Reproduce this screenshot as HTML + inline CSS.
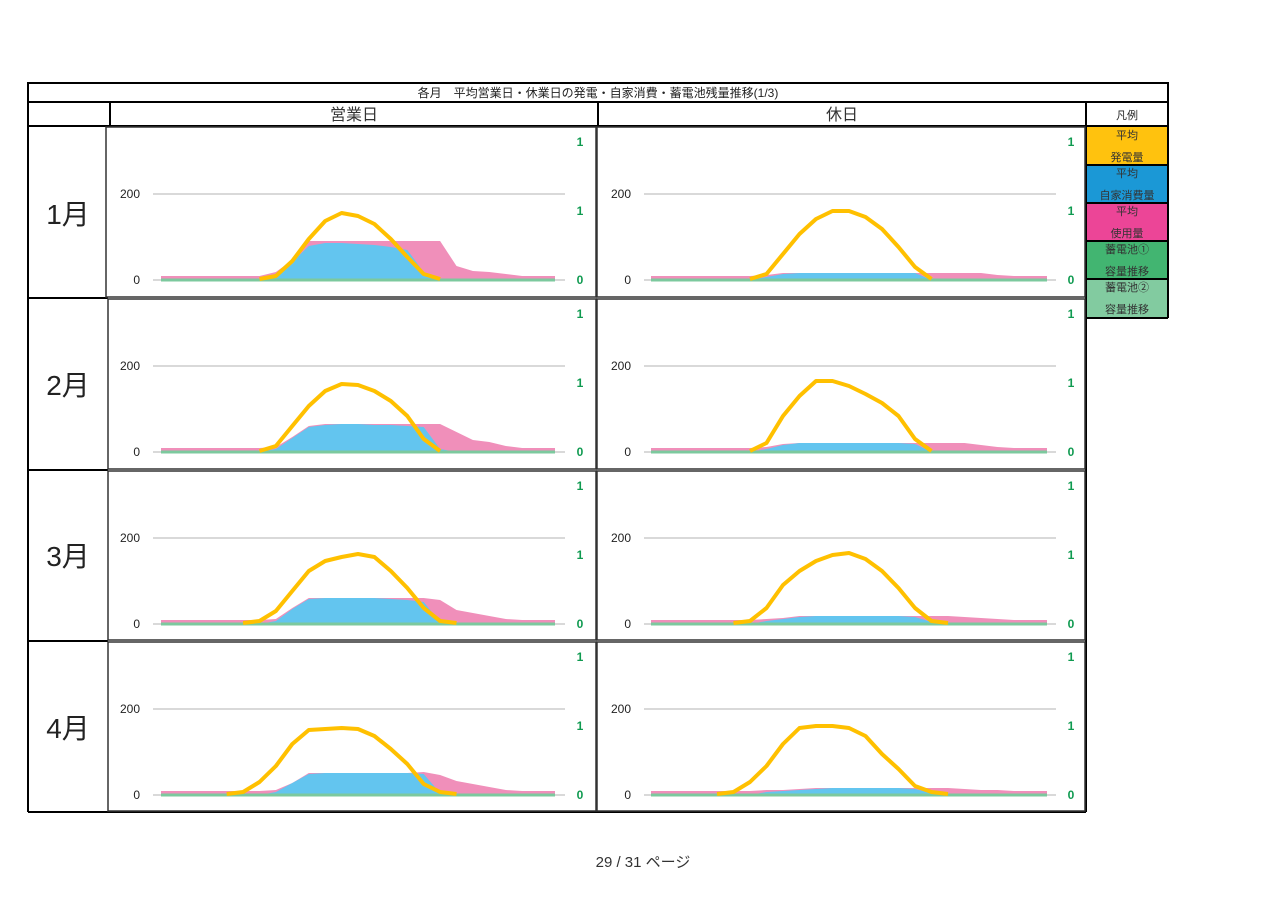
<!DOCTYPE html>
<html><head><meta charset="utf-8">
<style>
html,body{margin:0;padding:0;background:#fff;width:1286px;height:909px;overflow:hidden}
svg text{font-family:"Liberation Sans","Noto Sans CJK JP",sans-serif}
</style></head>
<body>
<svg id="s" width="1286" height="909" xmlns="http://www.w3.org/2000/svg">
<rect x="0" y="0" width="1286" height="909" fill="#fff"/>
<rect x="1087" y="127" width="81" height="38" fill="#ffc20e"/>
<rect x="1087" y="165" width="81" height="38" fill="#1b98d6"/>
<rect x="1087" y="203" width="81" height="38" fill="#ec4597"/>
<rect x="1087" y="241" width="81" height="38" fill="#42b571"/>
<rect x="1087" y="279" width="81" height="38" fill="#82cba0"/>
<g stroke="#000" stroke-width="2" fill="none">
<rect x="28" y="83" width="1140" height="19"/>
<line x1="28" y1="102" x2="28" y2="812"/>
<line x1="28" y1="126" x2="1168" y2="126"/>
<line x1="110" y1="102" x2="110" y2="126"/>
<line x1="598" y1="102" x2="598" y2="126"/>
<line x1="1086" y1="102" x2="1086" y2="812"/>
<line x1="1168" y1="102" x2="1168" y2="318"/>
<line x1="1086" y1="165" x2="1168" y2="165"/>
<line x1="1086" y1="203" x2="1168" y2="203"/>
<line x1="1086" y1="241" x2="1168" y2="241"/>
<line x1="1086" y1="279" x2="1168" y2="279"/>
<line x1="1086" y1="318" x2="1168" y2="318"/>
<line x1="28" y1="298" x2="108" y2="298"/>
<line x1="28" y1="470" x2="108" y2="470"/>
<line x1="28" y1="641" x2="108" y2="641"/>
<line x1="28" y1="812" x2="1086" y2="812"/>
</g>
<g stroke="#333" stroke-width="1.5" fill="none">
<rect x="106" y="127" width="490" height="170"/>
<rect x="597" y="127" width="488" height="170"/>
<rect x="108" y="299" width="488" height="170"/>
<rect x="597" y="299" width="488" height="170"/>
<rect x="108" y="471" width="488" height="169"/>
<rect x="597" y="471" width="488" height="169"/>
<rect x="108" y="642" width="488" height="169"/>
<rect x="597" y="642" width="488" height="169"/>
</g>
<text x="598" y="97" font-size="12" text-anchor="middle" fill="#222">各月　平均営業日・休業日の発電・自家消費・蓄電池残量推移(1/3)</text>
<text x="354" y="120" font-size="16" text-anchor="middle" fill="#333">営業日</text>
<text x="842" y="120" font-size="16" text-anchor="middle" fill="#333">休日</text>
<text x="1127" y="119" font-size="11" text-anchor="middle" fill="#222">凡例</text>
<g font-size="11" text-anchor="middle" fill="#333">
<text x="1127" y="139">平均</text><text x="1127" y="161">発電量</text>
<text x="1127" y="177">平均</text><text x="1127" y="199">自家消費量</text>
<text x="1127" y="215">平均</text><text x="1127" y="237">使用量</text>
<text x="1127" y="253">蓄電池①</text><text x="1127" y="275">容量推移</text>
<text x="1127" y="291">蓄電池②</text><text x="1127" y="313">容量推移</text>
</g>
<g font-size="28" text-anchor="middle" fill="#222">
<text x="68" y="224">1月</text>
<text x="68" y="395">2月</text>
<text x="68" y="566">3月</text>
<text x="68" y="738">4月</text>
</g>
<text x="643" y="867" font-size="15" text-anchor="middle" fill="#333">29 / 31 ページ</text>
<g id="charts"></g>
</svg>
<script>
function arr(o,def){if(def===undefined)def=0;var a=[];for(var i=0;i<25;i++)a.push(o[i]!==undefined?o[i]:def);return a;}
var D=[
[0,0,arr({7:8,8:20,9:39,10:39,11:39,12:39,13:39,14:39,15:39,16:39,17:39,18:14,19:9,20:8,21:6},4),
 arr({7:4,8:18,9:34,10:37,11:37,12:36,13:35,14:33,15:30,16:8}),
 arr({7:3,8:18,9:40,10:58,11:66,12:63,13:55,14:40,15:22,16:5})],
[0,1,arr({7:5,8:7,9:7,10:7,11:7,12:7,13:7,14:7,15:7,16:7,17:7,18:7,19:7,20:7,21:5},4),
 arr({7:3,8:6,9:7,10:7,11:7,12:7,13:7,14:7,15:7,16:7}),
 arr({7:5,8:25,9:45,10:60,11:68,12:68,13:62,14:50,15:32,16:12,17:0})],
[1,0,arr({7:5,8:15,9:26,10:28,11:28,12:28,13:28,14:28,15:28,16:28,17:28,18:20,19:12,20:10,21:6},4),
 arr({7:3,8:14,9:25,10:27,11:28,12:28,13:27,14:27,15:26,16:25,17:3}),
 arr({7:5,8:25,9:45,10:60,11:67,12:66,13:60,14:50,15:35,16:12,17:0})],
[1,1,arr({7:5,8:8,9:9,10:9,11:9,12:9,13:9,14:9,15:9,16:9,17:9,18:9,19:9,20:7,21:5},4),
 arr({7:3,8:7,9:9,10:9,11:9,12:9,13:9,14:9,15:9,16:8}),
 arr({7:8,8:35,9:55,10:70,11:70,12:65,13:57,14:48,15:35,16:12,17:0})],
[2,0,arr({7:5,8:16,9:26,10:26,11:26,12:26,13:26,14:26,15:26,16:26,17:24,18:14,19:11,20:8,21:5},4),
 arr({7:3,8:15,9:25,10:26,11:26,12:26,13:26,14:25,15:24,16:22,17:2}),
 arr({6:2,7:12,8:32,9:52,10:62,11:66,12:69,13:66,14:52,15:35,16:15,17:2})],
[2,1,arr({7:5,8:6,9:8,10:8,11:8,12:8,13:8,14:8,15:8,16:8,17:8,18:8,19:7,20:6,21:5},4),
 arr({7:3,8:5,9:7,10:8,11:8,12:8,13:8,14:8,15:8,16:7,17:2}),
 arr({6:2,7:15,8:38,9:52,10:62,11:68,12:70,13:64,14:52,15:35,16:15,17:2})],
[3,0,arr({7:5,8:12,9:22,10:22,11:22,12:22,13:22,14:22,15:22,16:23,17:20,18:14,19:11,20:8,21:5},4),
 arr({7:3,8:12,9:21,10:22,11:22,12:22,13:22,14:22,15:22,16:21,17:2}),
 arr({5:2,6:12,7:28,8:50,9:64,10:65,11:66,12:65,13:58,14:45,15:30,16:10,17:2})],
[3,1,arr({7:5,8:5,9:6,10:7,11:7,12:7,13:7,14:7,15:7,16:7,17:7,18:7,19:6,20:5,21:5},4),
 arr({7:3,8:4,9:5,10:6,11:7,12:7,13:7,14:7,15:7,16:6,17:2}),
 arr({5:2,6:12,7:28,8:50,9:66,10:68,11:68,12:66,13:58,14:40,15:25,16:8,17:2})]
];
var tops=[126,298,470,641];
var h='';
D.forEach(function(d){
 var top=tops[d[0]],bx=d[1]?597:106;
 var base=top+154;
 var x0=d[1]?651:161,x1=d[1]?1047:555,gx0=bx+47,gx1=bx+459;
 var st=(x1-x0)/24;
 function poly(v){var p=x0+','+base;for(var i=0;i<25;i++){var x=x0+st*i;p+=' '+x.toFixed(1)+','+(base-v[i]);}p+=' '+x1+','+base;return p;}
 function line(v){var a=0,b=24;while(a<24&&v[a+1]==0)a++;while(b>0&&v[b-1]==0)b--;var p='';for(var i=a;i<=b;i++){p+=(i>a?' ':'')+(x0+st*i).toFixed(1)+','+(base-v[i]-1);}return p;}
 h+='<line x1="'+gx0+'" y1="'+(base-86)+'" x2="'+gx1+'" y2="'+(base-86)+'" stroke="#d9d9d9" stroke-width="2"/>';
 h+='<line x1="'+gx0+'" y1="'+base+'" x2="'+gx1+'" y2="'+base+'" stroke="#d9d9d9" stroke-width="2"/>';
 h+='<polygon points="'+poly(d[2])+'" fill="#f08fba"/>';
 h+='<polygon points="'+poly(d[3])+'" fill="#63c5ef"/>';
 h+='<line x1="'+x0+'" y1="'+base+'" x2="'+x1+'" y2="'+base+'" stroke="#7cc99e" stroke-width="3"/>';
 h+='<polyline points="'+line(d[4])+'" fill="none" stroke="#ffc000" stroke-width="4" stroke-linejoin="round"/>';
 h+='<text x="'+(bx+34)+'" y="'+(base-82)+'" font-size="12" text-anchor="end" fill="#222">200</text>';
 h+='<text x="'+(bx+34)+'" y="'+(base+4)+'" font-size="12" text-anchor="end" fill="#222">0</text>';
 var rx=bx+474;
 h+='<text x="'+rx+'" y="'+(top+20)+'" font-size="12" font-weight="bold" text-anchor="middle" fill="#0f9a50">1</text>';
 h+='<text x="'+rx+'" y="'+(top+89)+'" font-size="12" font-weight="bold" text-anchor="middle" fill="#0f9a50">1</text>';
 h+='<text x="'+rx+'" y="'+(base+4)+'" font-size="12" font-weight="bold" text-anchor="middle" fill="#0f9a50">0</text>';
});
document.getElementById('charts').innerHTML=h;
</script>
</body></html>
